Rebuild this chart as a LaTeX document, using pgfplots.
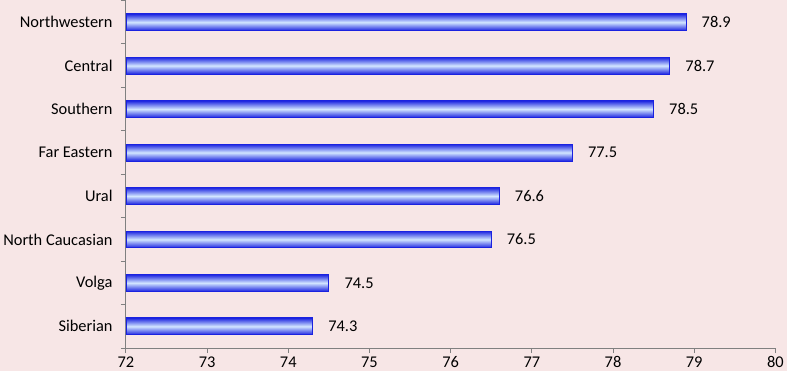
\documentclass[border=0pt]{standalone}
\usepackage{pgfplots}
\pgfplotsset{compat=1.18}
\usepackage{fontspec}
\setmainfont{Carlito}
\definecolor{bgpink}{HTML}{F7E6E6}
\definecolor{bardark}{HTML}{1A22E0}
\definecolor{barlight}{HTML}{D2E6FF}
\definecolor{axgray}{HTML}{808080}
\pagecolor{bgpink}
\pgfplotsset{barstyle/.style={draw=bardark, line width=0.8pt,
    top color=bardark, bottom color=bardark, middle color=barlight}}

\begin{document}
\begin{tikzpicture}
\begin{axis}[
    scale only axis,
    width=654pt, height=350pt,
    xmin=72, xmax=80,
    ymin=-0.5, ymax=7.5,
    xtick={72,73,...,80},
    ytick={0,...,7},
    yticklabels={Siberian,Volga,North Caucasian,Ural,Far Eastern,Southern,Central,Northwestern},
    minor ytick={-0.5,0.5,...,7.5},
    axis lines*=left,
    axis line style={axgray, line width=1pt},
    every tick/.style={axgray, line width=1pt},
    major y tick style={draw=none},
    minor y tick style={draw=axgray, line width=1pt},
    minor tick length=5pt,
    major tick length=5pt,
    tick align=outside,
    xtick pos=bottom,
    ytick pos=left,
    tick label style={font=\fontsize{16.5}{19}\selectfont, text=black},
    /pgf/number format/assume math mode=true,
    yticklabel style={xshift=-5pt},
    xbar,
    bar width=17pt,
    bar shift=0pt,
    point meta=x,
    nodes near coords,
    every node near coord/.append style={font=\fontsize{16.5}{19}\selectfont, text=black, anchor=west, xshift=12pt},
    nodes near coords style={/pgf/number format/.cd, fixed, precision=1, fixed zerofill},
    clip=false,
]
\addplot[barstyle] coordinates {(74.3,0)};
\addplot[barstyle] coordinates {(74.5,1)};
\addplot[barstyle] coordinates {(76.5,2)};
\addplot[barstyle] coordinates {(76.6,3)};
\addplot[barstyle] coordinates {(77.5,4)};
\addplot[barstyle] coordinates {(78.5,5)};
\addplot[barstyle] coordinates {(78.7,6)};
\addplot[barstyle] coordinates {(78.9,7)};
\end{axis}
\end{tikzpicture}
\end{document}
